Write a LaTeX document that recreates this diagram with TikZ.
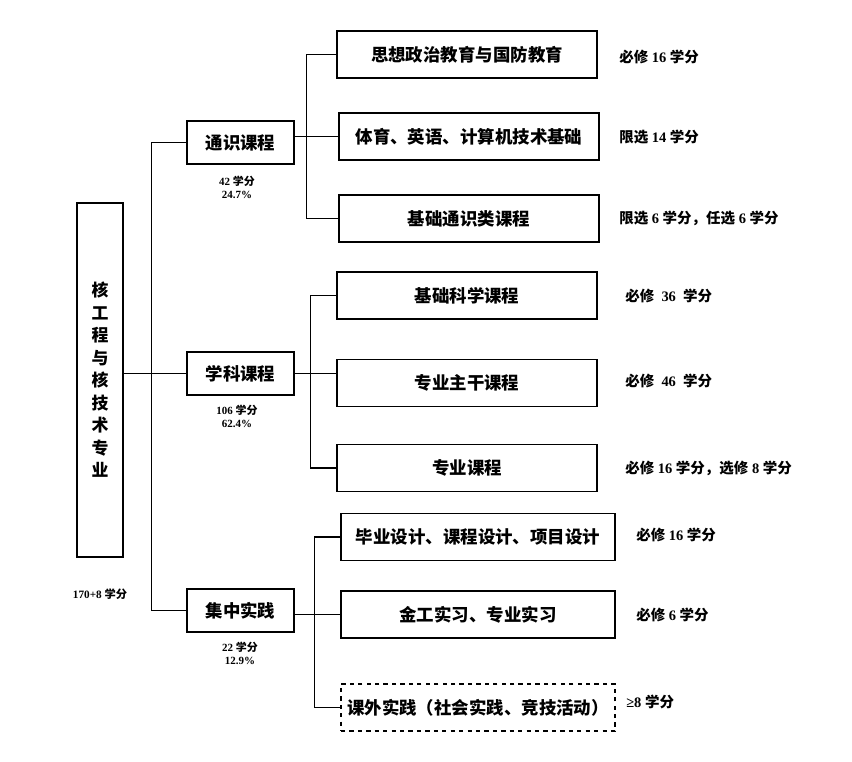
\documentclass[tikz,border=0pt]{standalone}
\usepackage{fontspec}
\setmainfont{Liberation Serif}
\newfontfamily\cjk{Noto Sans CJK SC}
\newcommand\zh[1]{{\cjk #1}}
\usetikzlibrary{positioning}

\tikzset{
  kasten/.style={draw, line width=0.8pt, inner sep=0pt,
    font=\cjk\bfseries\fontsize{12.4}{14}\selectfont},
  mittel/.style={kasten, minimum width=2.675cm, minimum height=1.075cm},
  unter/.style={kasten, minimum width=6.5cm, minimum height=1.175cm},
  unterb/.style={kasten, minimum width=6.85cm, minimum height=1.175cm},
  punkte/.style={anchor=west, inner sep=0pt,
    font=\bfseries\fontsize{10.3}{12}\selectfont},
  anteil/.style={align=center, inner sep=0pt,
    font=\bfseries\fontsize{7.8}{9.3}\selectfont},
  linie/.style={line width=0.8pt}
}

\begin{document}
\begin{tikzpicture}[x=0.025cm, y=-0.025cm]

    % 1. Rahmen (Pixelmass der Vorlage)
    \useasboundingbox (0,0) rectangle (852,761);

    % 2. Wurzel: Studiengang
    \node[kasten, minimum width=1.15cm, minimum height=8.85cm, align=center,
      font=\cjk\bfseries\fontsize{12}{16}\selectfont] (wurzel) at (100,380)
      {核\\工\\程\\与\\核\\技\\术\\专\\业};
    \node[anteil, font=\bfseries\fontsize{8}{9.3}\selectfont] (gesamt) at (100,594) {170+8 \zh{学分}};

    % 3. Mittlere Ebene
    \node[mittel] (tong)  at (240.5,142.5) {通识课程};
    \node[mittel] (xueke) at (240.5,373.5) {学科课程};
    \node[mittel] (jizh)  at (240.5,610.5) {集中实践};

    \node[anteil] (tongA)  at (237,187) {42 \zh{学分}\\24.7\%};
    \node[anteil] (xuekeA) at (237,416) {106 \zh{学分}\\62.4\%};
    \node[anteil] (jizhA)  at (240,653) {22 \zh{学分}\\12.9\%};

    % 4. Kurse je Gruppe
    \node[unter] (b11) at (467,54.5)  {思想政治教育与国防教育};
    \node[unter] (b12) at (469,136.5) {体育、英语、计算机技术基础};
    \node[unter] (b13) at (469,218.5) {基础通识类课程};

    \node[unter] (b21) at (467,295.5) {基础科学课程};
    \node[unter] (b22) at (467,383)   {专业主干课程};
    \node[unter] (b23) at (467,468)   {专业课程};

    \node[unterb] (b31) at (478,537)   {毕业设计、课程设计、项目设计};
    \node[unterb] (b32) at (478,614.5) {金工实习、专业实习};
    \node[unterb, dashed] (b33) at (478,707.5) {课外实践（社会实践、竞技活动）};

    % 5. Leistungspunkte rechts
    \node[punkte] (p11) at (619,57)  {\zh{必修} 16 \zh{学分}};
    \node[punkte] (p12) at (619,137) {\zh{限选} 14 \zh{学分}};
    \node[punkte] (p13) at (619,218) {\zh{限选} 6 \zh{学分，任选} 6 \zh{学分}};
    \node[punkte] (p21) at (625,296) {\zh{必修}\ \ 36\ \ \zh{学分}};
    \node[punkte] (p22) at (625,381) {\zh{必修}\ \ 46\ \ \zh{学分}};
    \node[punkte] (p23) at (625,468) {\zh{必修} 16 \zh{学分，选修} 8 \zh{学分}};
    \node[punkte] (p31) at (636,535) {\zh{必修} 16 \zh{学分}};
    \node[punkte] (p32) at (636,615) {\zh{必修} 6 \zh{学分}};
    \node[punkte] (p33) at (626,702) {≥8 \zh{学分}};

    % 6. Verbindungen (waagrecht)
    \draw[linie] (tong.west) -- ++(-35,0) |- (jizh.west);
    \draw[linie] (wurzel.east |- xueke.west) -- (xueke.west);

    \draw[linie] (b11.west) -- ++(-30,0) |- (b13.west);
    \draw[linie] (tong.east |- b12.west) -- (b12.west);

    \draw[linie] (b21.west) -- ++(-26,0) |- (b23.west);
    \draw[linie] (xueke.east) -- (xueke.east -| b22.west);

    \draw[linie] (b31.west) -- ++(-26,0) |- (b33.west);
    \draw[linie] (jizh.east |- b32.west) -- (b32.west);

\end{tikzpicture}
\end{document}
